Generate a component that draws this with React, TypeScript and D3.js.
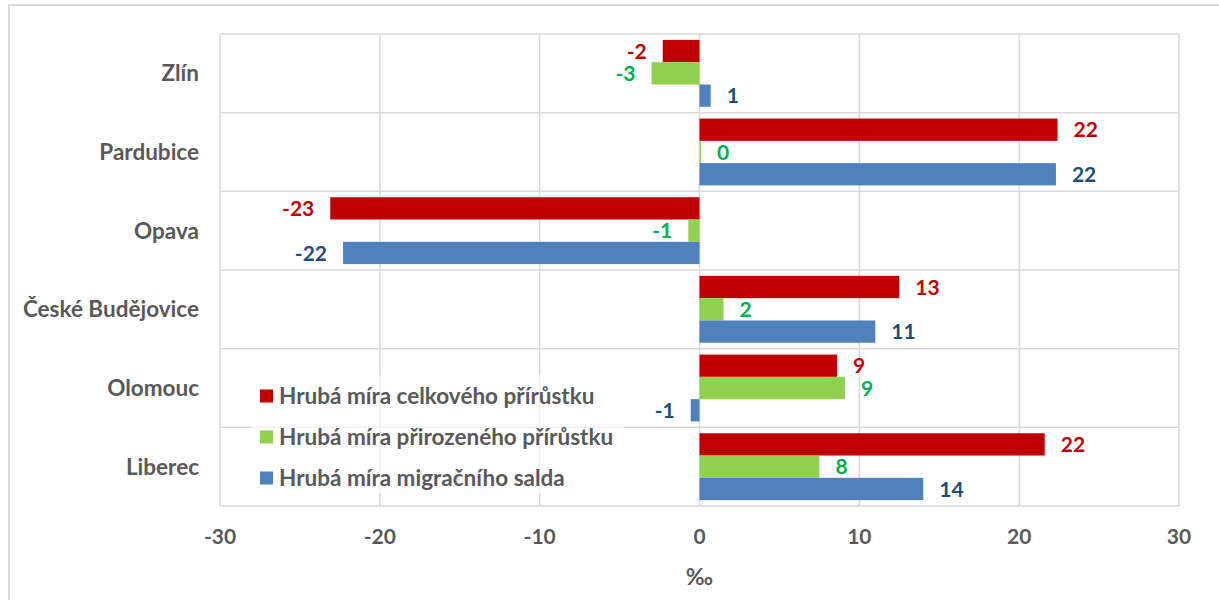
import React from "react";
import * as d3 from "d3";

// chart data (‰)
const categories = ["Zlín", "Pardubice", "Opava", "České Budějovice", "Olomouc", "Liberec"];
const celkovyPrirustek = [-2.3, 22.4, -23.1, 12.5, 8.6, 21.6];
const prirozenyPrirustek = [-3.0, 0.1, -0.7, 1.5, 9.1, 7.5];
const migracniSaldo = [0.7, 22.3, -22.3, 11.0, -0.55, 14.0];
const xTicks = [-30, -20, -10, 0, 10, 20, 30];

const seriesNames = [
  "Hrubá míra celkového přírůstku",
  "Hrubá míra přirozeného přírůstku",
  "Hrubá míra migračního salda",
];
const barColors = ["#C00000", "#92D050", "#4F81BD"];
const labelColors = ["#C00000", "#00B050", "#1F4E79"];

const W = 1219,
  H = 600;
const margin = { top: 34, right: 40, bottom: 94, left: 220 };
const FONT = "Lato, 'Open Sans', sans-serif";

const x = d3.scaleLinear().domain([-30, 30]).range([margin.left, W - margin.right]);
const y = d3.scaleBand().domain(categories).range([margin.top, H - margin.bottom]).padding(0);
const bw = y.bandwidth();
const ySeries = d3
  .scaleBand<number>()
  .domain([0, 1, 2])
  .range([bw * 0.075, bw * 0.925])
  .padding(0);

const fmt = (v: number) => String(Math.round(v));

export default function App() {
  const allSeries = [celkovyPrirustek, prirozenyPrirustek, migracniSaldo];
  const bandEdges = categories.map((c) => y(c) as number).concat([H - margin.bottom]);

  return (
    <svg
      width={W}
      height={H}
      style={{ position: "absolute", left: 0, top: 0, background: "#fff" }}
      fontFamily={FONT}
    >
      {/* chart frame */}
      <rect x={9} y={5} width={W + 10} height={H + 10} fill="#fff" stroke="#d9d9d9" strokeWidth={2} />

      {/* gridlines */}
      {xTicks.map((t) => (
        <line key={"gx" + t} x1={x(t)} x2={x(t)} y1={margin.top} y2={H - margin.bottom} stroke="#d9d9d9" strokeWidth={1.5} />
      ))}
      {bandEdges.map((e, i) => (
        <line key={"gy" + i} x1={x(-30)} x2={x(30)} y1={e} y2={e} stroke="#d9d9d9" strokeWidth={1.5} />
      ))}

      {/* bars */}
      {allSeries.map((vals, si) =>
        vals.map((v, ci) => {
          const y0 = (y(categories[ci]) as number) + (ySeries(si) as number);
          return (
            <rect
              key={`b${si}-${ci}`}
              x={Math.min(x(0), x(v))}
              y={y0}
              width={Math.abs(x(v) - x(0))}
              height={ySeries.bandwidth()}
              fill={barColors[si]}
            />
          );
        })
      )}

      {/* value labels */}
      {allSeries.map((vals, si) =>
        vals.map((v, ci) => {
          const yc = (y(categories[ci]) as number) + (ySeries(si) as number) + ySeries.bandwidth() / 2;
          return (
            <text
              key={`l${si}-${ci}`}
              x={v >= 0 ? x(v) + 16 : x(v) - 16}
              y={yc}
              dy="0.36em"
              textAnchor={v >= 0 ? "start" : "end"}
              fontSize={21}
              fontWeight={700}
              fill={labelColors[si]}
            >
              {fmt(v)}
            </text>
          );
        })
      )}

      {/* category labels */}
      {categories.map((c) => (
        <text
          key={"c" + c}
          x={margin.left - 21}
          y={(y(c) as number) + bw / 2}
          dy="0.36em"
          textAnchor="end"
          fontSize={22.5}
          fontWeight={700}
          fill="#595959"
        >
          {c}
        </text>
      ))}

      {/* x tick labels */}
      {xTicks.map((t) => (
        <text key={"t" + t} x={x(t)} y={544} textAnchor="middle" fontSize={21} fontWeight={700} fill="#595959">
          {t}
        </text>
      ))}
      <text x={x(0)} y={585} textAnchor="middle" fontSize={23} fontWeight={700} fill="#595959">
        ‰
      </text>

      {/* legend */}
      <rect x={252} y={375} width={372} height={118} fill="#fff" opacity={0.6} />
      {seriesNames.map((n, i) => (
        <g key={"lg" + i} transform={`translate(260,${396 + i * 41})`}>
          <rect x={0} y={-6.5} width={13} height={13} fill={barColors[i]} />
          <text x={19} y={0} dy="0.36em" fontSize={22.5} fontWeight={700} fill="#595959">
            {n}
          </text>
        </g>
      ))}
    </svg>
  );
}
